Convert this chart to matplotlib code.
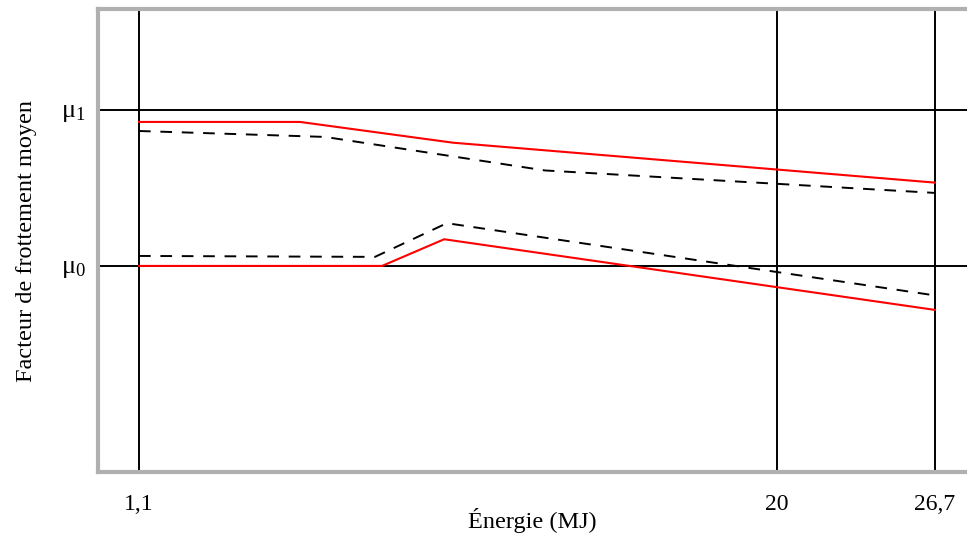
import numpy as np
import matplotlib
matplotlib.use("Agg")
import matplotlib.pyplot as plt

plt.rcParams['font.family'] = ['Liberation Serif', 'DejaVu Serif']
plt.rcParams['mathtext.fontset'] = 'custom'
plt.rcParams['mathtext.rm'] = 'Liberation Serif'
plt.rcParams['mathtext.it'] = 'Liberation Serif'

# ---- data ----
x_ticks = [1.1, 20, 26.7]
x_tick_labels = ["1,1", "20", "26,7"]
y_ticks = [0, 1]
y_tick_labels = [r"$\mathrm{\mu}_0$", r"$\mathrm{\mu}_1$"]

red_upper_x = [1.1, 5.87, 10.40, 26.7]
red_upper_y = [0.923, 0.923, 0.790, 0.534]

dash_upper_x = [1.1, 6.61, 13.13, 26.7]
dash_upper_y = [0.865, 0.827, 0.612, 0.468]

dash_lower_x = [1.1, 8.09, 10.22, 26.7]
dash_lower_y = [0.064, 0.058, 0.274, -0.189]

red_lower_x = [1.1, 8.30, 10.14, 26.7]
red_lower_y = [0.0, 0.0, 0.171, -0.282]

x_label = "Énergie (MJ)"
y_label = "Facteur de frottement moyen"

# ---- piecewise-linear x scale (schematic axis) ----
_E = np.array([1.1, 20.0, 26.7])
_P = np.array([0.0, 638.0, 796.0])

def fwd(e):
    e = np.asarray(e, dtype=float)
    s1 = (_P[1] - _P[0]) / (_E[1] - _E[0])
    s2 = (_P[2] - _P[1]) / (_E[2] - _E[1])
    return np.where(e <= _E[1], _P[0] + (e - _E[0]) * s1, _P[1] + (e - _E[1]) * s2)

def inv(p):
    p = np.asarray(p, dtype=float)
    s1 = (_P[1] - _P[0]) / (_E[1] - _E[0])
    s2 = (_P[2] - _P[1]) / (_E[2] - _E[1])
    return np.where(p <= _P[1], _E[0] + (p - _P[0]) / s1, _E[1] + (p - _P[1]) / s2)

fig = plt.figure(figsize=(9.67, 5.36), dpi=100)
ax = fig.add_axes([98 / 967, 64 / 536, 1 - 98 / 967, (472 - 9) / 536])
ax.set_xscale('function', functions=(fwd, inv))
ax.set_xlim(inv(-41.0), inv(828.0))
ax.set_ylim(-1.321, 1.647)

ax.plot(red_upper_x, red_upper_y, color='#ff0000', lw=1.5, zorder=3)
ax.plot(red_lower_x, red_lower_y, color='#ff0000', lw=1.5, zorder=3)
ax.plot(dash_upper_x, dash_upper_y, color='black', lw=1.4, dashes=(6, 5), zorder=3)
ax.plot(dash_lower_x, dash_lower_y, color='black', lw=1.4, dashes=(6, 5), zorder=3)

ax.set_xticks(x_ticks)
ax.set_xticklabels(x_tick_labels)
ax.set_yticks(y_ticks)
ax.set_yticklabels(y_tick_labels)
ax.xaxis.set_minor_locator(matplotlib.ticker.NullLocator())
ax.tick_params(axis='x', length=0, labelsize=17, pad=16)
ax.tick_params(axis='y', length=0, labelsize=19, pad=9)
ax.grid(True, color='black', lw=1.4, zorder=1)
ax.set_axisbelow(True)

for side in ['left', 'top', 'bottom']:
    ax.spines[side].set_color('#b0b0b0')
    ax.spines[side].set_linewidth(3)
ax.spines['right'].set_visible(False)

ax.set_xlabel(x_label, fontsize=17.5, labelpad=-5)
ax.set_ylabel(y_label, fontsize=17.5, labelpad=17)

fig.savefig("out.png", dpi=100)
